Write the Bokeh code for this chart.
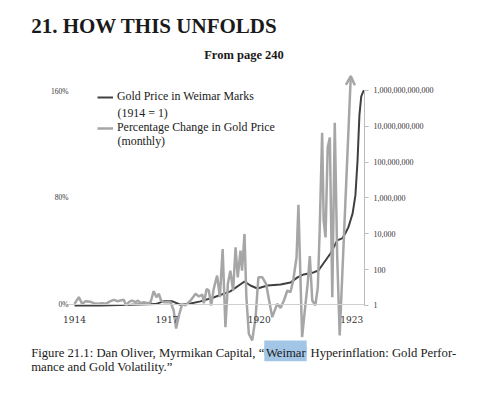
from bokeh.plotting import figure
from bokeh.models import (Range1d, LogScale, LogAxis, FixedTicker,
                          Label, Legend, LegendItem, Arrow, OpenHead)
from bokeh.embed import file_html
from bokeh.resources import INLINE

# ---------------- texts ----------------
title_text = "21. HOW THIS UNFOLDS"
subtitle_text = "From page 240"
legend_1 = "Gold Price in Weimar Marks"
legend_1b = "(1914 = 1)"
legend_2 = "Percentage Change in Gold Price"
legend_2b = "(monthly)"
caption_a = "Figure 21.1: Dan Oliver, Myrmikan Capital, \u201c"
caption_b = "Weimar"
caption_c = "Hyperinflation: Gold Perfor-"
caption_d = "mance and Gold Volatility.\u201d"

# ---------------- ticks ----------------
year_ticks = [1914, 1917, 1920, 1923]
pct_ticks = [0, 80, 160]
pct_labels = ["0%", "80%", "160%"]
price_ticks = [1, 1e2, 1e4, 1e6, 1e8, 1e10, 1e12]
price_labels = ["1", "100", "10,000", "1,000,000", "100,000,000",
                "10,000,000,000", "1,000,000,000,000"]

# ---------------- data ----------------
price_year = [1914.00, 1914.84, 1915.82, 1916.63, 1916.89, 1917.18, 1917.44,
              1917.77, 1918.09, 1918.51, 1919.06, 1919.52, 1919.71, 1919.94,
              1920.27, 1920.69, 1921.01, 1921.24, 1921.44, 1921.76, 1921.92,
              1922.08, 1922.31, 1922.53, 1922.69, 1922.79, 1922.89, 1922.96,
              1923.03, 1923.12, 1923.19, 1923.25, 1923.31, 1923.38, 1923.41]
price_value = [1.0, 1.0, 1.1, 1.2, 1.7, 1.7, 1.1,
               1.3, 1.7, 2.8, 6.1, 22, 13, 8.9,
               13, 15, 19, 37, 54, 70, 90,
               222, 800, 4280, 5530, 10500, 22800, 56000,
               138000, 1.4e6, 1.26e8, 4.1e10, 4.7e11, 9.1e11, 1.0e12]

pct_year = [1914.00, 1914.14, 1914.25, 1914.36, 1914.52, 1914.63, 1914.74,
            1914.90, 1915.01, 1915.17, 1915.28, 1915.39, 1915.49, 1915.60,
            1915.68, 1915.76, 1915.87, 1915.98, 1916.06, 1916.14, 1916.25,
            1916.38, 1916.47, 1916.57, 1916.66, 1916.74, 1916.81, 1916.90,
            1917.12, 1917.22, 1917.30, 1917.39, 1917.50, 1917.60, 1917.77,
            1917.93, 1918.04, 1918.15, 1918.20, 1918.29, 1918.36, 1918.44,
            1918.52, 1918.63, 1918.72, 1918.81, 1918.90, 1918.98, 1919.06,
            1919.15, 1919.23, 1919.30, 1919.39, 1919.44, 1919.52, 1919.58,
            1919.66, 1919.77, 1919.88, 1919.97, 1920.10, 1920.22, 1920.30,
            1920.42, 1920.58, 1920.69, 1920.80, 1920.91, 1921.01, 1921.10,
            1921.21, 1921.27, 1921.39, 1921.50, 1921.57, 1921.64, 1921.72,
            1921.82, 1921.90, 1921.96, 1922.04, 1922.09, 1922.15, 1922.22,
            1922.29, 1922.37, 1922.45, 1922.53, 1922.61, 1922.97]
pct_value = [0.5, 5.5, 0.5, 2.5, 2.0, 1.0, 0.5,
             1.0, 0.5, 2.5, 3.5, 2.5, 3.0, 3.5,
             -0.7, 1.7, 3.0, 1.7, 3.0, 1.0, 1.7,
             1.0, 1.7, 10.0, 5.5, 8.0, 3.0, 1.7,
             1.7, -4.5, -18.0, -8.2, 0.5, -0.7, 3.0,
             8.0, 6.0, 7.5, 1.0, 11.7, 10.5, -0.7,
             11.7, 21.7, 5.5, 41.6, -17.0, 15.5, 25.4,
             10.5, 42.8, 20.4, 40.4, 25.4, 52.9, 5.5,
             -21.9, -26.9, -9.5, 20.4, 20.4, 15.5, 5.5,
             -9.5, 0.5, -2.6, 3.0, 10.5, 9.2, 17.9,
             35.4, 74.8, -24.4, 0.5, 15.5, 36.3, 3.0,
             -0.7, 12.9, 55.3, 128.8, 62.8, 50.3, 117.6,
             125.1, 5.5, 136.3, 35.4, -23.2, 171.2]

# ---------------- styles ----------------
SERIF = "Liberation Serif"
DARK = "#404040"
GRAY = "#a6a6a6"
TEXT = "#1a1a1a"
HILITE = "#a3c6e6"
AXIS_X_START = 1913.773     # where the baseline begins
LEFT_AXIS_AT = 1914.03      # left (percent) axis position
RIGHT_AXIS_AT = 1923.4156   # right (log) axis position

p = figure(width=482, height=395, output_backend="svg", toolbar_location=None,
           x_range=Range1d(1912.3117, 1927.0519),
           y_range=Range1d(-53.22, 227.89),
           min_border_left=22, min_border_right=6,
           min_border_top=0, min_border_bottom=20)
p.extra_y_ranges = {"log": Range1d(10 ** -3.907, 10 ** 17.023)}
p.extra_y_scales = {"log": LogScale()}

p.outline_line_color = None
p.xgrid.visible = False
p.ygrid.visible = False
p.background_fill_color = "white"
p.border_fill_color = "white"

# x axis (drawn on the 0% line)
xa = p.xaxis[0]
xa.ticker = FixedTicker(ticks=year_ticks)
xa.fixed_location = 0
xa.bounds = (AXIS_X_START, RIGHT_AXIS_AT)
xa.axis_line_color = "#d0d0d0"
xa.axis_line_width = 1
xa.major_tick_line_color = None
xa.minor_tick_line_color = None
xa.major_label_standoff = 5
xa.major_label_text_font = "DejaVu Serif"
xa.major_label_text_font_size = "9px"
xa.major_label_text_color = "#333333"

# left axis (percent)
ya = p.yaxis[0]
ya.ticker = FixedTicker(ticks=pct_ticks)
ya.fixed_location = LEFT_AXIS_AT
ya.major_label_overrides = {t: s for t, s in zip(pct_ticks, pct_labels)}
ya.axis_line_color = None
ya.major_tick_line_color = None
ya.minor_tick_line_color = None
ya.major_label_standoff = 1
ya.major_label_text_font = SERIF
ya.major_label_text_font_size = "7.5px"
ya.major_label_text_color = "#333333"

# right axis (log price): line + ticks from the axis, labels as text at the ticks
ra = LogAxis(y_range_name="log", ticker=FixedTicker(ticks=price_ticks),
             bounds=(price_ticks[0], price_ticks[-1]),
             fixed_location=RIGHT_AXIS_AT)
ra.axis_line_color = "#bdbdbd"
ra.major_tick_line_color = "#bdbdbd"
ra.major_tick_out = 4
ra.major_tick_in = 0
ra.minor_tick_line_color = None
ra.major_label_standoff = 0
ra.major_label_text_font_size = "1px"
ra.major_label_text_alpha = 0
p.add_layout(ra, "right")
p.text(x=[RIGHT_AXIS_AT] * len(price_ticks), y=price_ticks, text=price_labels,
       y_range_name="log", x_offset=9, text_baseline="middle",
       text_align="left", text_font_size="8px", text_color="#333333",
       text_font={"value": SERIF})

# series
r_price = p.line(price_year, price_value, y_range_name="log",
                 line_color=DARK, line_width=2)
r_pct = p.line(pct_year, pct_value, line_color=GRAY, line_width=2.5)
p.add_layout(Arrow(end=OpenHead(size=9, line_color=GRAY, line_width=2.5),
                   x_start=pct_year[-2], y_start=pct_value[-2],
                   x_end=pct_year[-1], y_end=pct_value[-1],
                   line_alpha=0))

# legend (frame-relative, origin bottom-left; frame left=22, bottom=375)
legend = Legend(items=[LegendItem(label=legend_1, renderers=[r_price]),
                       LegendItem(label=legend_2, renderers=[r_pct])],
                location=(75, 240), orientation="vertical",
                glyph_width=16, glyph_height=14, label_height=14,
                spacing=16, padding=0, margin=0, label_standoff=4,
                border_line_alpha=0, background_fill_alpha=0,
                label_text_font=SERIF, label_text_font_size="11.9px",
                label_text_color=TEXT)
p.add_layout(legend)

def lab(text, x, y, size, bold=False, align="left", baseline="middle", **kw):
    kw.setdefault("text_color", TEXT)
    p.add_layout(Label(text=text, x=x, y=y, x_units="screen", y_units="screen",
                       text_font=SERIF, text_font_size=size,
                       text_font_style="bold" if bold else "normal",
                       text_align=align, text_baseline=baseline, **kw))

lab(title_text, 8.7, 349.5, "21px", bold=True)
lab(subtitle_text, 221.5, 321, "12.5px", bold=True, align="center")
lab(legend_1b, 95, 263, "11.9px")
lab(legend_2b, 95, 235, "11.9px")
# highlight box behind the word (two stacked boxes), then the caption text
lab(caption_b, 263, 27.5, "13.5px", align="center",
    background_fill_color=HILITE, text_color=HILITE)
lab(caption_b, 263, 21.8, "13.5px", align="center",
    background_fill_color=HILITE, text_color=HILITE)
lab(caption_b, 263.3, 22.3, "12.7px", align="center")
lab(caption_a, 8.7, 22.3, "12.7px")
lab(caption_c, 288, 22.3, "12.7px")
lab(caption_d, 8.7, 8.3, "12.7px")

open("out.html", "w").write(file_html(p, INLINE))
